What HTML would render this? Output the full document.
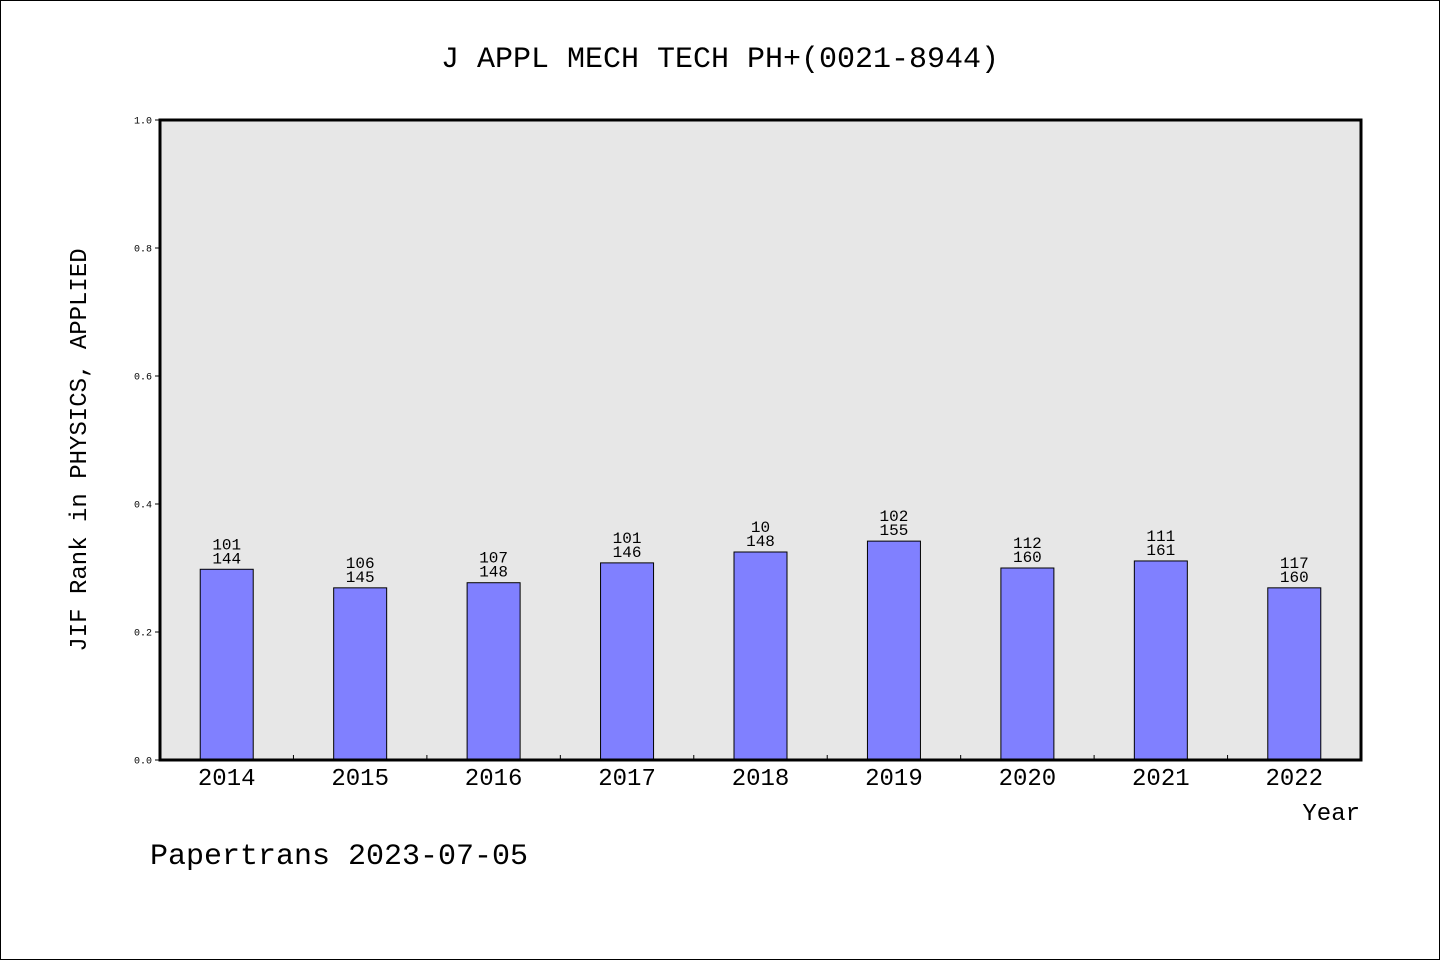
<!DOCTYPE html>
<html><head><meta charset="utf-8"><style>
body{margin:0;background:#fff}
svg{display:block}
text{font-family:"Liberation Mono","WenQuanYi Zen Hei",monospace;fill:#000}
</style></head><body>
<svg id="c" width="1440" height="960" xmlns="http://www.w3.org/2000/svg">
<rect x="0.5" y="0.5" width="1439" height="959" fill="#fff" stroke="#000"/>
<text x="720" y="67" font-size="30" text-anchor="middle">J APPL MECH TECH PH+(0021-8944)</text>
<rect x="160" y="120" width="1201" height="640" fill="#e7e7e7"/>
<g id="g"></g>
<rect x="160" y="120" width="1201" height="640" fill="none" stroke="#000" stroke-width="3"/>
<text transform="translate(86,450) rotate(-90)" font-size="24" text-anchor="middle">JIF Rank in PHYSICS, APPLIED</text>
<text x="1360" y="820" font-size="24" text-anchor="end">Year</text>
<text x="150" y="864" font-size="30">Papertrans 2023-07-05</text>
</svg>
<script>
const years=["2014","2015","2016","2017","2018","2019","2020","2021","2022"];
const ranks=["101","106","107","101","10","102","112","111","117"];
const totals=["144","145","148","146","148","155","160","161","160"];
const values=[0.298,0.269,0.277,0.308,0.325,0.342,0.300,0.311,0.269];
const yTicks=["0.0","0.2","0.4","0.6","0.8","1.0"];
const X0=160,W=1201,Y0=760,H=640;
const bw=W/years.length;
const xs=i=>X0+bw*(i+0.5);
const ys=v=>Y0-v*H;
const g=document.getElementById('g');
const NS="http://www.w3.org/2000/svg";
function mk(t,a,txt){const e=document.createElementNS(NS,t);for(const k in a)e.setAttribute(k,a[k]);if(txt!=null)e.textContent=txt;g.appendChild(e);return e;}
yTicks.forEach(t=>{const y=ys(parseFloat(t));
const l=mk('line',{x1:155,x2:160,y1:y,y2:y,stroke:'#000'});


const tx=mk('text',{x:152,y:y+3.5,'font-size':10,'text-anchor':'end'},t);


});
years.forEach((yr,i)=>{
if(i>0){const x=X0+bw*i;const l=mk('line',{x1:x,x2:x,y1:755,y2:760,stroke:'#000'});

}
const cx=xs(i),top=ys(values[i]);
const r=mk('rect',{x:cx-26.5,y:top,width:53,height:Y0-top,fill:'#8080ff',stroke:'#000'});


const a=mk('text',{x:cx,y:top-20,'font-size':16,'text-anchor':'middle'},ranks[i]);


const b=mk('text',{x:cx,y:top-6,'font-size':16,'text-anchor':'middle'},totals[i]);


const xl=mk('text',{x:cx,y:785,'font-size':24,'text-anchor':'middle'},yr);


});
</script>
</body></html>
